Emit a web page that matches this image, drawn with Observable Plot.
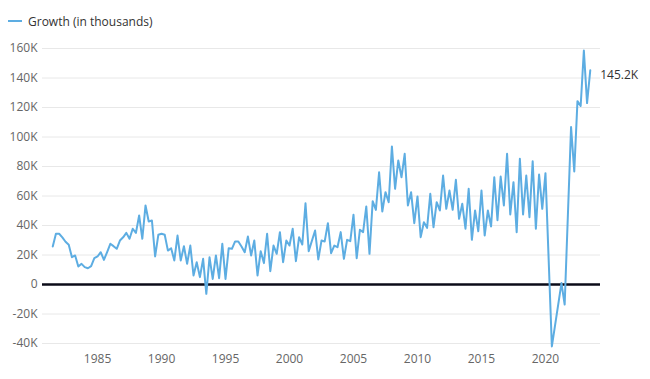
<!DOCTYPE html>
<html><head><meta charset="utf-8">
<script src="https://cdn.jsdelivr.net/npm/d3@7"></script>
<script src="https://cdn.jsdelivr.net/npm/@observablehq/plot@0.6"></script>
<style>
body{margin:0;background:#fff;font-family:"Open Sans",sans-serif;}
#legend{height:40px;display:flex;align-items:center;padding-left:8px;font-size:12px;color:#333;box-sizing:border-box;padding-top:2px;}
#legend .sw{display:inline-block;width:14px;height:2px;background:#5dade2;margin-right:6px;}
</style></head><body>
<div id="legend"><span class="sw"></span><span>Growth (in thousands)</span></div>
<div id="chart"></div>
<script>
const seriesName = "Growth (in thousands)";
const quarters = [
1981.5,1981.75,1982,1982.25,1982.5,1982.75,1983,1983.25,1983.5,1983.75,
1984,1984.25,1984.5,1984.75,1985,1985.25,1985.5,1985.75,1986,1986.25,
1986.5,1986.75,1987,1987.25,1987.5,1987.75,1988,1988.25,1988.5,1988.75,
1989,1989.25,1989.5,1989.75,1990,1990.25,1990.5,1990.75,1991,1991.25,
1991.5,1991.75,1992,1992.25,1992.5,1992.75,1993,1993.25,1993.5,1993.75,
1994,1994.25,1994.5,1994.75,1995,1995.25,1995.5,1995.75,1996,1996.25,
1996.5,1996.75,1997,1997.25,1997.5,1997.75,1998,1998.25,1998.5,1998.75,
1999,1999.25,1999.5,1999.75,2000,2000.25,2000.5,2000.75,2001,2001.25,
2001.5,2002,2002.25,2002.5,2002.75,2003,2003.25,2003.5,2003.75,
2004,2004.25,2004.5,2004.75,2005,2005.25,2005.5,2005.75,2006,2006.25,
2006.5,2006.75,2007,2007.25,2007.5,2007.75,2008,2008.25,2008.5,2008.75,
2009,2009.25,2009.5,2009.75,2010,2010.25,2010.5,2010.75,2011,2011.25,
2011.5,2011.75,2012,2012.25,2012.5,2012.75,2013,2013.25,2013.5,2013.75,
2014,2014.25,2014.5,2014.75,2015,2015.25,2015.5,2015.75,2016,2016.25,
2016.5,2016.75,2017,2017.25,2017.5,2017.75,2018,2018.25,2018.5,2018.75,
2019,2019.25,2019.5,2019.75,2020,2020.5,2021.25,2021.5,
2022,2022.25,2022.5,2022.75,2023,2023.25,2023.5
];
const growth = [
25.8,34.4,34.4,32,29,27,18.5,19.7,12.2,14,
11.8,11,12.4,17.8,19,21.9,16.7,22,27.6,26,
24.2,29.8,32,35,31,37.8,35,46.8,31,53.6,
42.7,43.4,19,33.7,34.4,33.7,23,24.6,16.3,33.2,
16.3,26,14,26.4,6.1,15.1,5,17.4,-6.3,18.5,
3.8,19.7,4.3,27.6,3.8,24.6,24.2,29.2,29.2,25.8,
21.9,32.5,19.7,29.8,6.1,22.6,14.5,34.4,9,26.4,
20.8,35.5,15.1,29.8,26.4,37.8,15.8,32.1,27.1,55.1,
22.6,36.6,17,29.8,29.2,41.6,21.2,26.4,25.3,
35.5,17.4,30.3,29.4,47.3,17.8,37.1,35.5,52.9,20.8,
56.5,50.6,76.1,49.5,62.6,55.8,93.6,64.9,84.1,72.7,
88.6,53.6,62.6,41.6,59.7,32.1,42.2,38.4,61.5,38.8,
55.8,50.2,73.9,51.3,63.7,50.6,71,44.5,54.7,37.8,
64.9,30.3,50.2,36.1,63.7,33.2,50.2,39.3,72.7,43.6,
73.2,53.6,88.6,47.5,69.4,35.5,85.2,47.5,73.9,45.6,
83.6,37.8,74.6,51.3,75.5,-42,1,-13.6,
106.7,76.6,124.3,121,158.6,123,145.2
];
const yTicks = [-40,-20,0,20,40,60,80,100,120,140,160];
const xTicks = [1985,1990,1995,2000,2005,2010,2015,2020];
const endLabel = "145.2K";

const data = quarters.map((q, i) => ({q, v: growth[i]}));
const last = data[data.length - 1];
const fmtY = d => d === 0 ? "0" : (d < 0 ? "-" + Math.abs(d) + "K" : d + "K");

const chart = Plot.plot({
  width: 650,
  height: 339,
  marginTop: 8,
  marginBottom: 36,
  marginLeft: 42,
  marginRight: 50,
  style: {fontFamily: "'Open Sans', sans-serif", fontSize: "12px", background: "#fff", overflow: "visible"},
  x: {domain: [1980.7, 2024.3], ticks: xTicks, tickFormat: d => String(d), tickSize: 0, tickPadding: 11, label: null},
  y: {domain: [-40, 160], ticks: yTicks, tickFormat: fmtY, tickSize: 0, tickPadding: 5, label: null},
  marks: [
    Plot.ruleY(yTicks.filter(d => d !== 0), {stroke: "#e8e8e8", strokeWidth: 1}),
    Plot.axisX({ticks: xTicks, tickFormat: d => String(d), tickSize: 0, tickPadding: 11, fill: "#666", label: null}),
    Plot.axisY({ticks: yTicks, tickFormat: fmtY, tickSize: 0, tickPadding: 5, fill: "#666", label: null}),
    Plot.ruleY([0], {stroke: "#0b0b18", strokeWidth: 2.5}),
    Plot.line(data, {x: "q", y: "v", stroke: "#5dade2", strokeWidth: 2, strokeLinejoin: "round"}),
    Plot.text([last], {x: "q", y: "v", text: () => endLabel, dx: 10, dy: 5, textAnchor: "start", fill: "#333", fontSize: 12})
  ]
});
document.getElementById("chart").appendChild(chart);
</script>
</body></html>
